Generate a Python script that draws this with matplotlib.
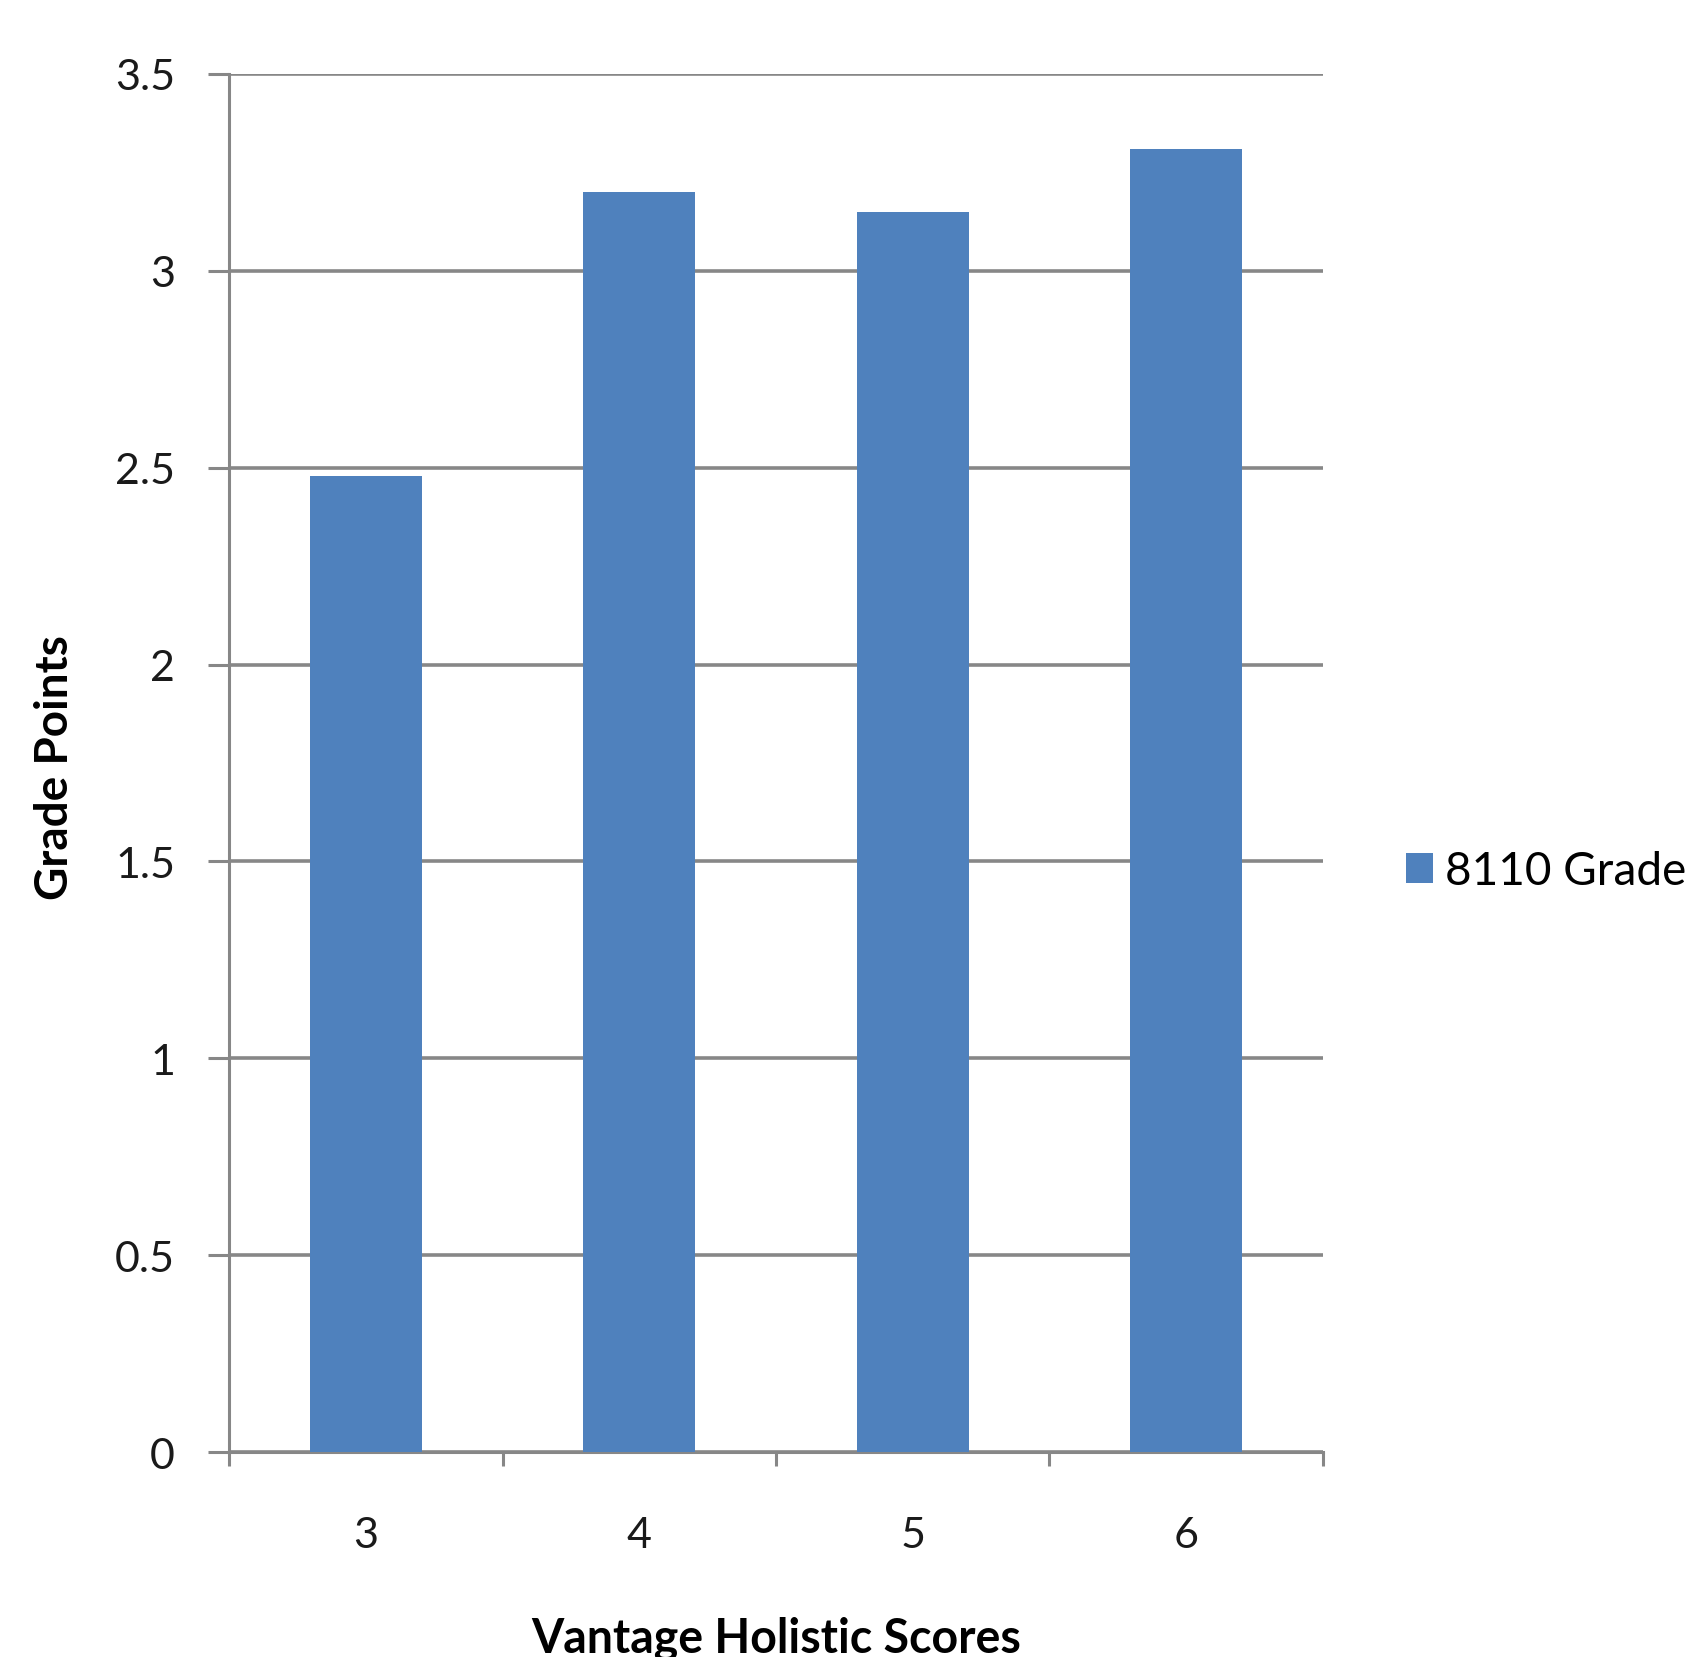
import numpy as np
import matplotlib.pyplot as plt

scores = ["3", "4", "5", "6"]
grade_points = [2.48, 3.20, 3.15, 3.31]
series_name = "8110 Grade"
y_ticks = [0, 0.5, 1, 1.5, 2, 2.5, 3, 3.5]
y_tick_labels = ["0", "0.5", "1", "1.5", "2", "2.5", "3", "3.5"]

plt.rcParams['font.family'] = ['Lato', 'DejaVu Sans']
grid_col = '#878787'

fig = plt.figure(figsize=(16.85, 16.58), dpi=100)
ax = fig.add_axes([0.136, 0.1236, 0.649, 0.8312])

x = np.arange(len(scores))
ax.bar(x, grade_points, width=0.41, color='#4F81BD', label=series_name, zorder=3)

ax.set_xlim(-0.5, len(scores) - 0.5)
ax.set_ylim(0, 3.5)
ax.set_yticks(y_ticks)
ax.set_yticklabels(y_tick_labels)
ax.set_xticks(x)
ax.set_xticklabels(scores)
# category boundary ticks on the x axis
ax.set_xticks(np.arange(len(scores) + 1) - 0.5, minor=True)

ax.yaxis.grid(True, color=grid_col, linewidth=2.6, zorder=0)
ax.tick_params(axis='y', length=15, width=2.2, color=grid_col, pad=24,
               labelsize=31, labelcolor='#1a1a1a')
ax.tick_params(axis='x', which='major', length=0, pad=46,
               labelsize=31, labelcolor='#1a1a1a')
ax.tick_params(axis='x', which='minor', length=10, width=2.2, color=grid_col)

for side in ['top', 'right']:
    ax.spines[side].set_visible(False)
for side in ['left', 'bottom']:
    ax.spines[side].set_color(grid_col)
    ax.spines[side].set_linewidth(2.2)

ax.set_ylabel("Grade Points", fontsize=33, fontweight='bold')
ax.yaxis.set_label_coords(0.045, 0.537, transform=fig.transFigure)
ax.set_xlabel("Vantage Holistic Scores", fontsize=33.5, fontweight='bold')
ax.xaxis.set_label_coords(0.4605, 0.025, transform=fig.transFigure)

ax.legend(loc='center left', bbox_to_anchor=(0.8344, 0.474),
          bbox_transform=fig.transFigure, frameon=False, fontsize=33,
          handlelength=0.6, handleheight=0.6, handletextpad=0.25,
          borderaxespad=0, borderpad=0)

fig.savefig("out.png", dpi=100)
